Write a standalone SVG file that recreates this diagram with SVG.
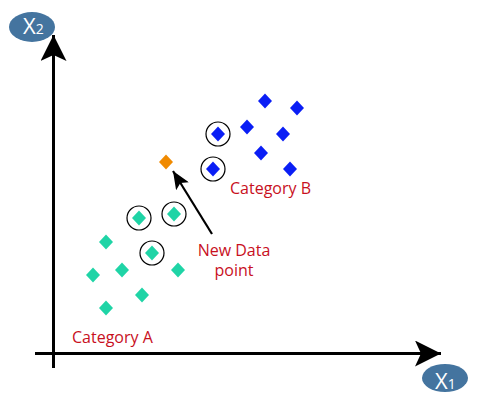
<svg xmlns="http://www.w3.org/2000/svg" width="500" height="400" viewBox="0 0 500 400">
<style>
.ax{stroke:#000;stroke-width:3;fill:none}
.lbl{font-family:"Open Sans","Liberation Sans",sans-serif;fill:#c8101e;font-size:16px}
.xl{font-family:"Open Sans","Liberation Sans",sans-serif;fill:#fff}
.ell{fill:#44749f}
.g{fill:#1fd4a6}
.b{fill:#0a1ef5}
.o{fill:#f08a00}
.c{fill:none;stroke:#000;stroke-width:1.2}
</style>
<defs>
<path id="d" d="M0,-7.5 L7,0 L0,7.5 L-7,0 Z"/>
<marker id="big" viewBox="0 0 26 26" refX="26" refY="13" markerWidth="26" markerHeight="26" markerUnits="userSpaceOnUse" orient="auto"><path d="M0,0 L26,13 L0,26 L6,13 Z" fill="#000"/></marker>
<marker id="small" viewBox="0 0 18 15" refX="18" refY="7.5" markerWidth="18" markerHeight="15" markerUnits="userSpaceOnUse" orient="auto"><path d="M0,0 L18,7.5 L0,15 L4,7.5 Z" fill="#000"/></marker>
</defs>
<g id="connectors">
<line id="x2-axis" class="ax" x1="53.5" y1="368" x2="53.5" y2="35" marker-end="url(#big)"/>
<line id="x1-axis" class="ax" x1="35" y1="353.5" x2="441" y2="353.5" marker-end="url(#big)"/>
<line id="new-arrow" stroke="#000" stroke-width="2.2" x1="212" y1="234" x2="173" y2="171" marker-end="url(#small)"/>
</g>
<g id="x2-label"><ellipse class="ell" cx="32" cy="27" rx="23" ry="15"/><text class="xl" x="23" y="34" font-size="22">X<tspan font-size="14">2</tspan></text></g>
<g id="x1-label"><ellipse class="ell" cx="445" cy="378" rx="23" ry="14"/><text class="xl" x="435" y="389" font-size="22">X<tspan font-size="14">1</tspan></text></g>
<g id="category-a">
<use href="#d" class="g" x="139" y="218"/>
<use href="#d" class="g" x="174" y="214"/>
<use href="#d" class="g" x="152" y="253"/>
<use href="#d" class="g" x="106" y="242"/>
<use href="#d" class="g" x="93" y="275"/>
<use href="#d" class="g" x="122" y="270"/>
<use href="#d" class="g" x="178" y="270"/>
<use href="#d" class="g" x="142" y="295"/>
<use href="#d" class="g" x="106" y="308"/>
<circle class="c" cx="139" cy="218" r="12"/>
<circle class="c" cx="174" cy="214" r="12"/>
<circle class="c" cx="152" cy="253" r="12"/>
<text class="lbl" x="72" y="343">Category A</text>
</g>
<g id="category-b">
<use href="#d" class="b" x="265" y="101"/>
<use href="#d" class="b" x="297" y="108"/>
<use href="#d" class="b" x="247" y="127"/>
<use href="#d" class="b" x="283" y="134"/>
<use href="#d" class="b" x="261" y="153"/>
<use href="#d" class="b" x="290" y="169"/>
<use href="#d" class="b" x="218" y="134"/>
<use href="#d" class="b" x="213" y="169"/>
<circle class="c" cx="218" cy="134" r="12"/>
<circle class="c" cx="213" cy="169" r="12"/>
<text class="lbl" x="230" y="194">Category B</text>
</g>
<g id="new-point">
<use href="#d" class="o" x="166" y="162"/>
<text class="lbl" text-anchor="middle" x="234" y="256">New Data</text>
<text class="lbl" text-anchor="middle" x="234" y="276">point</text>
</g>
</svg>
